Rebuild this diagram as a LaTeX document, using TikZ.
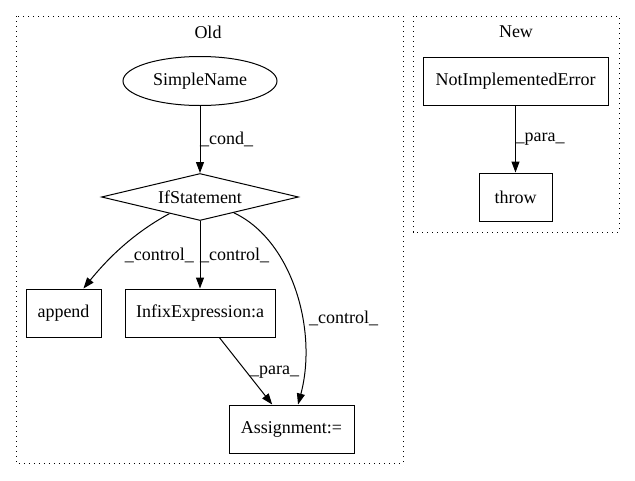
\documentclass[tikz,border=0pt]{standalone}
\usepackage{fontspec}
\setmainfont{Liberation Serif}
\usetikzlibrary{shapes.geometric,arrows.meta}
\begin{document}
\begin{tikzpicture}[x=1pt,y=-1pt,
  every node/.style={font=\fontsize{18}{20}\selectfont},
  box/.style={draw,line width=1pt,rectangle,inner sep=0pt,minimum height=48pt},
  cluster/.style={line width=1pt,dash pattern=on 1.3pt off 3.7pt},
  edge/.style={line width=1pt,-{Triangle[length=11pt,width=8pt]}},
  lbl/.style={inner sep=0pt}]
\useasboundingbox (0,0) rectangle (635,480);
\fill[white] (0,0) rectangle (635,480);
% clusters
\draw[cluster] (16,16) rectangle (403,463);
\draw[cluster] (413,16) rectangle (619,232);
\node (oldt) at (208,32) {Old};
\node (newt) at (516,32) {New};
% nodes
\node[draw,line width=1pt,ellipse,inner sep=0pt,minimum width=154pt,minimum height=49pt] (sn) at (200,81) {SimpleName};
\node[draw,line width=1pt,diamond,inner sep=0pt,aspect=4,minimum width=197pt,minimum height=47pt] (ifs) at (200,197) {IfStatement};
\node[box,minimum width=75pt] (app) at (63.5,313) {append};
\node[box,minimum width=150pt] (inf) at (200,313) {InfixExpression:a};
\node[box,minimum width=125pt] (asg) at (291.5,429) {Assignment:=};
\node[box,minimum width=185pt] (nie) at (515.5,81) {NotImplementedError};
\node[box,minimum width=73pt] (thr) at (515.5,197) {throw};
% edges
\draw[edge] (sn) -- (ifs);
\node[lbl,anchor=west] (l1) at (200,139) {\_cond\_};
\draw[edge] (ifs) .. controls (130,235) and (105,262) .. (app);
\node[lbl,anchor=east] (l2) at (194,255) {\_control\_};
\draw[edge] (ifs) -- (inf);
\node[lbl,anchor=west] (l3) at (200,255) {\_control\_};
\draw[edge] (ifs) .. controls (292,240) and (318,330) .. (asg);
\node[lbl,anchor=west] (l4) at (309,318) {\_control\_};
\draw[edge] (inf) -- (asg);
\node[lbl,anchor=west] (l5) at (250,372) {\_para\_};
\draw[edge] (nie) -- (thr);
\node[lbl,anchor=west] (l6) at (515.5,139) {\_para\_};
\end{tikzpicture}
\end{document}
